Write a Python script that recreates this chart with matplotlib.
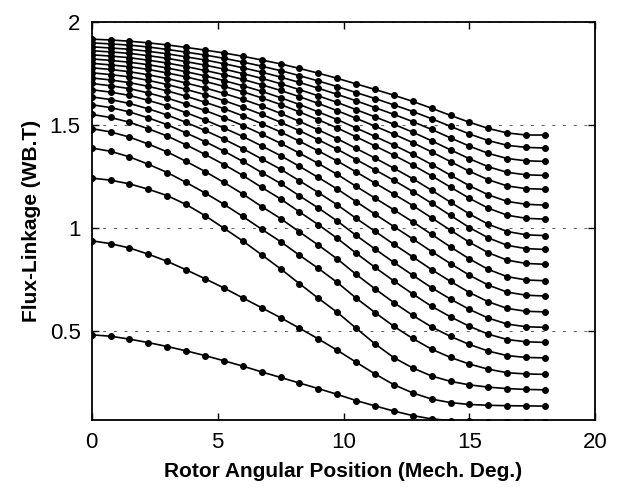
import matplotlib
matplotlib.use("Agg")
import matplotlib.pyplot as plt

plt.rcParams['font.family'] = ['Liberation Sans', 'DejaVu Sans']

# rotor position (mech. deg.)
theta = [0, 0.75, 1.5, 2.25, 3, 3.75, 4.5, 5.25, 6, 6.75, 7.5, 8.25, 9,
         9.75, 10.5, 11.25, 12, 12.75, 13.5, 14.25, 15, 15.75, 16.5, 17.25, 18]

# flux-linkage curves, lowest current first
flux_01 = [.483, .476, .462, .445, .426, .405, .382, .357, .331, .303, .276, .249, .222,
           .194, .164, .138, .113, .091, .075, .067, .063, .061, .060, .060, .060]
flux_02 = [.939, .925, .904, .874, .839, .798, .755, .710, .662, .614, .566, .515, .463,
           .408, .350, .293, .241, .201, .171, .154, .145, .141, .139, .138, .137]
flux_03 = [1.243, 1.233, 1.215, 1.189, 1.158, 1.115, 1.061, 1.000, .938, .871, .803, .731, .660,
           .592, .515, .439, .372, .322, .283, .257, .240, .229, .222, .218, .216]
flux_04 = [1.389, 1.373, 1.346, 1.310, 1.270, 1.222, 1.171, 1.116, 1.057, .995, .935, .869, .805,
           .737, .661, .591, .524, .465, .413, .373, .341, .316, .299, .293, .291]
flux_05 = [1.483, 1.467, 1.442, 1.408, 1.370, 1.324, 1.275, 1.222, 1.166, 1.105, 1.047, .982, .918,
           .851, .776, .706, .639, .577, .521, .475, .436, .404, .382, .373, .371]
flux_06 = [1.552, 1.537, 1.514, 1.482, 1.447, 1.404, 1.358, 1.309, 1.256, 1.198, 1.142, 1.079, 1.017,
           .951, .879, .810, .744, .681, .621, .570, .524, .486, .460, .449, .446]
flux_07 = [1.599, 1.585, 1.564, 1.535, 1.502, 1.462, 1.420, 1.374, 1.324, 1.270, 1.217, 1.157, 1.098,
           1.035, .965, .899, .834, .772, .711, .656, .606, .564, .535, .522, .519]
flux_08 = [1.637, 1.624, 1.605, 1.579, 1.549, 1.513, 1.474, 1.432, 1.386, 1.336, 1.286, 1.230, 1.173,
           1.113, 1.048, .985, .922, .861, .799, .742, .688, .643, .611, .597, .594]
flux_09 = [1.672, 1.660, 1.644, 1.620, 1.593, 1.560, 1.525, 1.486, 1.445, 1.399, 1.352, 1.300, 1.246,
           1.190, 1.129, 1.068, 1.008, .948, .887, .828, .772, .724, .690, .675, .671]
flux_10 = [1.702, 1.691, 1.677, 1.656, 1.631, 1.602, 1.571, 1.536, 1.498, 1.456, 1.412, 1.364, 1.314,
           1.261, 1.203, 1.146, 1.089, 1.031, .970, .909, .851, .800, .765, .749, .745]
flux_11 = [1.729, 1.719, 1.706, 1.688, 1.666, 1.640, 1.611, 1.580, 1.545, 1.507, 1.467, 1.422, 1.375,
           1.326, 1.273, 1.219, 1.165, 1.110, 1.050, .990, .932, .881, .845, .829, .825]
flux_12 = [1.754, 1.745, 1.734, 1.717, 1.697, 1.673, 1.648, 1.619, 1.587, 1.552, 1.514, 1.473, 1.429,
           1.383, 1.333, 1.283, 1.232, 1.178, 1.121, 1.062, 1.003, .953, .917, .901, .897]
flux_13 = [1.778, 1.770, 1.759, 1.744, 1.726, 1.704, 1.681, 1.654, 1.625, 1.593, 1.557, 1.518, 1.477,
           1.434, 1.387, 1.340, 1.291, 1.240, 1.184, 1.126, 1.069, 1.019, .984, .968, .964]
flux_14 = [1.800, 1.792, 1.783, 1.770, 1.753, 1.734, 1.712, 1.688, 1.662, 1.632, 1.600, 1.564, 1.526,
           1.486, 1.443, 1.399, 1.354, 1.306, 1.254, 1.199, 1.145, 1.097, 1.063, 1.048, 1.044]
flux_15 = [1.821, 1.814, 1.805, 1.793, 1.777, 1.759, 1.739, 1.716, 1.691, 1.664, 1.633, 1.600, 1.564,
           1.527, 1.486, 1.445, 1.403, 1.358, 1.309, 1.257, 1.206, 1.162, 1.130, 1.116, 1.112]
flux_16 = [1.841, 1.835, 1.827, 1.815, 1.801, 1.784, 1.765, 1.745, 1.722, 1.696, 1.668, 1.638, 1.605,
           1.570, 1.533, 1.495, 1.456, 1.415, 1.370, 1.323, 1.276, 1.235, 1.205, 1.192, 1.189]
flux_17 = [1.861, 1.855, 1.848, 1.837, 1.824, 1.808, 1.791, 1.772, 1.750, 1.727, 1.701, 1.672, 1.642,
           1.610, 1.575, 1.540, 1.504, 1.466, 1.424, 1.380, 1.337, 1.298, 1.271, 1.259, 1.256]
flux_18 = [1.880, 1.874, 1.868, 1.858, 1.846, 1.831, 1.816, 1.798, 1.778, 1.757, 1.733, 1.707, 1.679,
           1.649, 1.618, 1.585, 1.552, 1.517, 1.479, 1.438, 1.398, 1.363, 1.338, 1.327, 1.324]
flux_19 = [1.899, 1.894, 1.888, 1.879, 1.867, 1.854, 1.840, 1.824, 1.806, 1.786, 1.764, 1.740, 1.714,
           1.687, 1.658, 1.629, 1.598, 1.566, 1.531, 1.494, 1.457, 1.425, 1.402, 1.392, 1.389]
flux_20 = [1.917, 1.913, 1.907, 1.899, 1.889, 1.877, 1.864, 1.850, 1.834, 1.816, 1.797, 1.775, 1.752,
           1.727, 1.700, 1.673, 1.645, 1.615, 1.582, 1.547, 1.514, 1.484, 1.462, 1.452, 1.452]

curves = [flux_01, flux_02, flux_03, flux_04, flux_05, flux_06, flux_07, flux_08, flux_09, flux_10,
          flux_11, flux_12, flux_13, flux_14, flux_15, flux_16, flux_17, flux_18, flux_19, flux_20]

fig = plt.figure(figsize=(6.24, 4.9), dpi=100)
ax = fig.add_axes([0.147, 0.143, 0.807, 0.812])

for c in curves:
    ax.plot(theta, c, color='black', lw=1.2, marker='o', ms=4.0, mfc='black', mec='black')

ax.set_xlim(0, 20)
ax.set_ylim(0.07, 2)
ax.set_xticks([0, 5, 10, 15, 20])
ax.set_yticks([0.5, 1, 1.5, 2])
ax.set_yticklabels(['0.5', '1', '1.5', '2'])
ax.tick_params(direction='in', top=True, right=True, length=5, width=1, labelsize=16)
ax.tick_params(axis='x', pad=9)
ax.tick_params(axis='y', pad=8)
ax.yaxis.grid(True, linestyle=(0, (3, 8)), color='0.35', lw=0.7)
for s in ax.spines.values():
    s.set_linewidth(1.3)

ax.set_xlabel('Rotor Angular Position (Mech. Deg.)', fontsize=15, fontweight='bold', labelpad=6)
ax.set_ylabel('Flux-Linkage (WB.T)', fontsize=15, fontweight='bold', labelpad=6)

fig.savefig('out.png', dpi=100)
